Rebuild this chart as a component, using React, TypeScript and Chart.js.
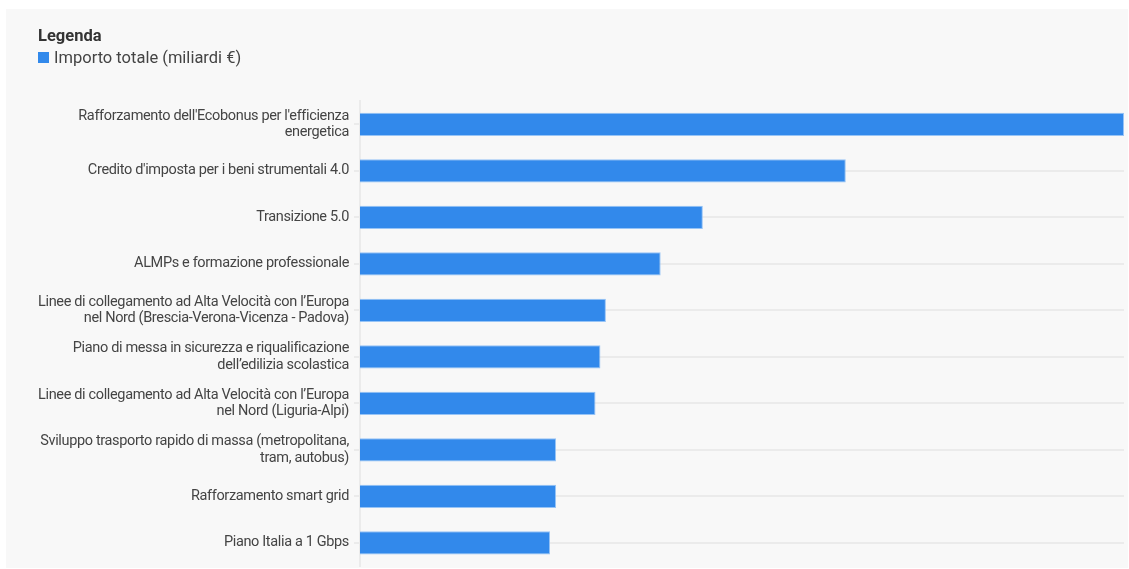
import React, { useEffect, useRef } from "react";
import { Chart, registerables } from "chart.js";

Chart.register(...registerables);

const categories: string[][] = [
  ["Rafforzamento dell'Ecobonus per l'efficienza", "energetica"],
  ["Credito d'imposta per i beni strumentali 4.0"],
  ["Transizione 5.0"],
  ["ALMPs e formazione professionale"],
  ["Linee di collegamento ad Alta Velocità con l’Europa", "nel Nord (Brescia-Verona-Vicenza - Padova)"],
  ["Piano di messa in sicurezza e riqualificazione", "dell’edilizia scolastica"],
  ["Linee di collegamento ad Alta Velocità con l’Europa", "nel Nord (Liguria-Alpi)"],
  ["Sviluppo trasporto rapido di massa (metropolitana,", "tram, autobus)"],
  ["Rafforzamento smart grid"],
  ["Piano Italia a 1 Gbps"],
];

const importoTotale: number[] = [13.95, 8.87, 6.26, 5.49, 4.49, 4.39, 4.3, 3.58, 3.58, 3.47];

const seriesName = "Importo totale (miliardi €)";
const legendTitle = "Legenda";

const FONT = "Roboto, sans-serif";
const BAR_COLOR = "#3289eb";

export default function App() {
  const ref = useRef<HTMLCanvasElement>(null);

  useEffect(() => {
    if (!ref.current) return;
    const bgPlugin = {
      id: "bg",
      beforeDraw(chart: any) {
        const ctx = chart.ctx;
        ctx.save();
        ctx.fillStyle = "#f8f8f8";
        ctx.fillRect(6, 9, 1122, 559);
        ctx.restore();
        ctx.letterSpacing = "-0.35px";
      },
      afterDraw(chart: any) {
        const ctx = chart.ctx;
        ctx.save();
        ctx.letterSpacing = "0px";
        ctx.textBaseline = "alphabetic";
        ctx.textAlign = "left";
        ctx.fillStyle = "#333333";
        ctx.font = `bold 16.5px ${FONT}`;
        ctx.fillText(legendTitle, 38, 41);
        ctx.fillStyle = BAR_COLOR;
        ctx.fillRect(38, 52, 11, 11);
        ctx.fillStyle = "#444444";
        ctx.font = `16.5px ${FONT}`;
        ctx.fillText(seriesName, 54, 63);
        ctx.restore();
        ctx.letterSpacing = "0px";
      },
    };

    const chart = new Chart(ref.current, {
      type: "bar",
      data: {
        labels: categories,
        datasets: [
          {
            label: seriesName,
            data: importoTotale,
            backgroundColor: BAR_COLOR,
            borderColor: "rgba(140,190,245,0.9)",
            borderWidth: 1,
            barPercentage: 0.5,
            categoryPercentage: 1,
          },
        ],
      },
      options: {
        indexAxis: "y",
        animation: false,
        responsive: false,
        maintainAspectRatio: false,
        layout: { padding: { top: 101, bottom: 3, left: 0, right: 5 } },
        plugins: {
          legend: { display: false },
          title: { display: false },
          tooltip: { enabled: false },
        },
        scales: {
          x: {
            display: false,
            min: 0,
            max: 13.95,
          },
          y: {
            afterFit(scale: any) {
              scale.width = 360;
              scale.paddingTop = 0;
              scale.paddingBottom = 0;
            },
            grid: {
              offset: false,
              color: "#ebebeb",
              lineWidth: 2,
              tickLength: 6,
              drawOnChartArea: true,
            },
            border: { display: true, color: "#ebebeb", width: 2 },
            ticks: {
              color: "#444444",
              padding: 5,
              font: { family: FONT, size: 14.5, lineHeight: 1.15 },
            },
          },
        },
      },
      plugins: [bgPlugin],
    });
    return () => chart.destroy();
  }, []);

  return (
    <div style={{ position: "absolute", left: 0, top: 0, width: 1129, height: 569 }}>
      <canvas ref={ref} width={1129} height={569} style={{ display: "block" }} />
    </div>
  );
}
